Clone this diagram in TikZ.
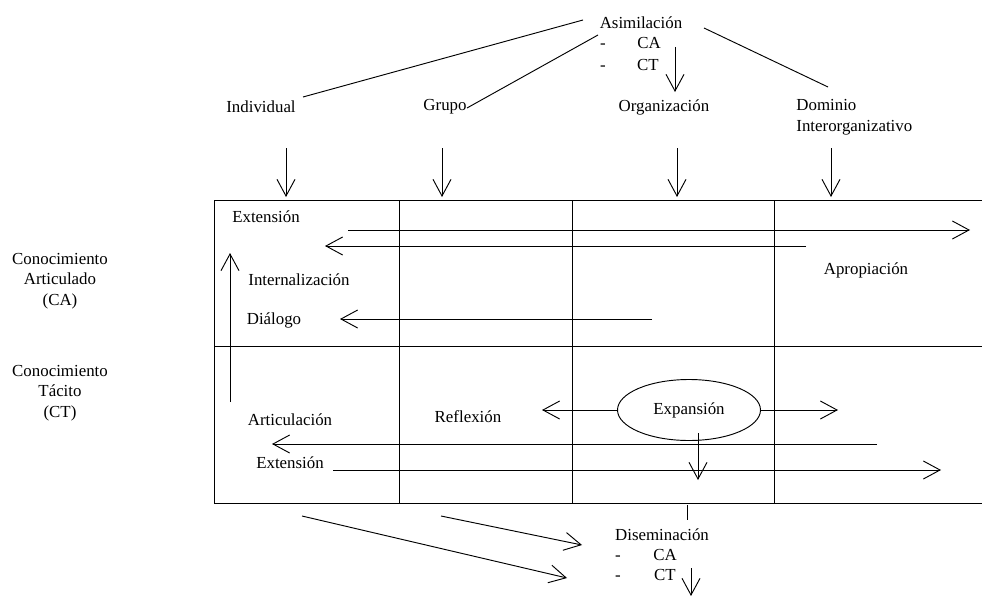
\documentclass[tikz,border=0pt]{standalone}
\usepackage{fontspec}
\setmainfont{Liberation Serif}
\usepackage{tikz}
\usetikzlibrary{shapes.geometric, arrows.meta, positioning, calc}
\tikzset{
    lbl/.style={font=\fontsize{14.4}{17.6}\selectfont, inner sep=1pt},
    item/.style={lbl, anchor=base},
    stage/.style={lbl, align=center},
    cell/.style={line width=0.8pt},
    link/.style={line width=0.8pt},
    flow/.style={-{Straight Barb[length=5mm, width=5.4mm]}, line width=0.8pt},
    bubble/.style={ellipse, draw, line width=0.8pt, minimum width=42.9mm, minimum height=18.3mm, inner sep=0pt, font=\fontsize{14.4}{17.6}\selectfont},
}

\begin{document}
\begin{tikzpicture}[x=0.3mm, y=-0.3mm]
\useasboundingbox (0,0) rectangle (982,596);

% Levels
\node[lbl] (asim) at (641,23) {Asimilación};
\node[item] (asimdA) at (603,48.5) {-};
\node[item] (asimCA) at (649,48.5) {CA};
\node[item] (asimdT) at (603,70.5) {-};
\node[item] (asimCT) at (648,70.5) {CT};
\node[lbl] (indiv) at (261,107) {Individual};
\node[lbl] (grupo) at (445,107) {Grupo};
\node[lbl] (org) at (664,107) {Organización};
\node[lbl, align=left, anchor=west] (dom) at (795,117) {Dominio\\Interorganizativo};

% Knowledge types
\node[stage] (ca) at (60,281) {Conocimiento\\Articulado\\(CA)};
\node[stage] (ct) at (60,393) {Conocimiento\\Tácito\\(CT)};

% Lines from Asimilacion
\coordinate (asimL) at (583,20);
\coordinate (asimG) at (598,35);
\coordinate (asimR) at (704,28);
\coordinate (indivE) at (303,97);
\coordinate (grupoE) at (467,108);
\coordinate (domN) at (828,87);
\draw[link] (indivE) -- (asimL);
\draw[link] (grupoE) -- (asimG);
\draw[link] (asimR) -- (domN);
\coordinate (asimS) at (675,47);
\coordinate (orgN) at (675,92);
\draw[flow] (asimS) -- (orgN);

% Arrows into the grid
\coordinate (indivS) at (286,148);
\coordinate (indivT) at (286,197);
\coordinate (grupoS) at (442,148);
\coordinate (grupoT) at (442,197);
\coordinate (orgS) at (677,148);
\coordinate (orgT) at (677,197);
\coordinate (domS) at (831,148);
\coordinate (domT) at (831,197);
\draw[flow] (indivS) -- (indivT);
\draw[flow] (grupoS) -- (grupoT);
\draw[flow] (orgS) -- (orgT);
\draw[flow] (domS) -- (domT);

% Grid
\draw[cell] (982,200) -- (214,200) -- (214,503) -- (982,503);
\draw[cell] (214,346) -- (982,346);
\draw[cell] (399,200) -- (399,503);
\draw[cell] (572,200) -- (572,503);
\draw[cell] (774,200) -- (774,503);

% Upper row
\node[lbl] (ext1) at (266,217) {Extensión};
\node[lbl] (intl) at (299,280) {Internalización};
\node[lbl] (dial) at (274,320) {Diálogo};
\node[lbl] (apro) at (866,270) {Apropiación};
\coordinate (ext1S) at (348,230);
\coordinate (ext1T) at (970,230);
\coordinate (intlS) at (806,246);
\coordinate (intlT) at (325,246);
\coordinate (dialS) at (652,319);
\coordinate (dialT) at (340,319);
\draw[flow] (ext1S) -- (ext1T);
\draw[flow] (intlS) -- (intlT);
\draw[flow] (dialS) -- (dialT);
\coordinate (artS) at (230,402);
\coordinate (artT) at (230,253);
\draw[flow] (artS) -- (artT);

% Lower row
\node[lbl] (artc) at (290,420) {Articulación};
\node[lbl] (refl) at (468,417) {Reflexión};
\node[bubble] (expa) at (689,410) {Expansión};
\coordinate (reflT) at (542,410);
\coordinate (expaT) at (838,410);
\draw[flow] (expa.west) -- (reflT);
\draw[flow] (expa.east) -- (expaT);
\node[lbl] (ext2) at (290,463) {Extensión};
\coordinate (artcS) at (877,444);
\coordinate (artcT) at (272,444);
\coordinate (ext2S) at (333,470);
\coordinate (ext2T) at (941,470);
\draw[flow] (artcS) -- (artcT);
\draw[flow] (ext2S) -- (ext2T);
\coordinate (expaS) at (698,433);
\coordinate (expaD) at (698,480);
\draw[flow] (expaS) -- (expaD);

% Diseminacion
\coordinate (tickA) at (687,505);
\coordinate (tickB) at (687,520);
\draw[cell] (tickA) -- (tickB);
\node[lbl] (dise) at (662,535) {Diseminación};
\node[item] (disedA) at (618,560.5) {-};
\node[item] (diseCA) at (665,560.5) {CA};
\node[item] (disedT) at (618,580.5) {-};
\node[item] (diseCT) at (665,580.5) {CT};
\coordinate (lowA) at (302,516);
\coordinate (lowAT) at (567,578);
\coordinate (lowB) at (441,516);
\coordinate (lowBT) at (582,545);
\draw[flow] (lowA) -- (lowAT);
\draw[flow] (lowB) -- (lowBT);
\coordinate (diseS) at (691,568);
\coordinate (diseT) at (691,596);
\draw[flow] (diseS) -- (diseT);

\end{tikzpicture}
\end{document}
